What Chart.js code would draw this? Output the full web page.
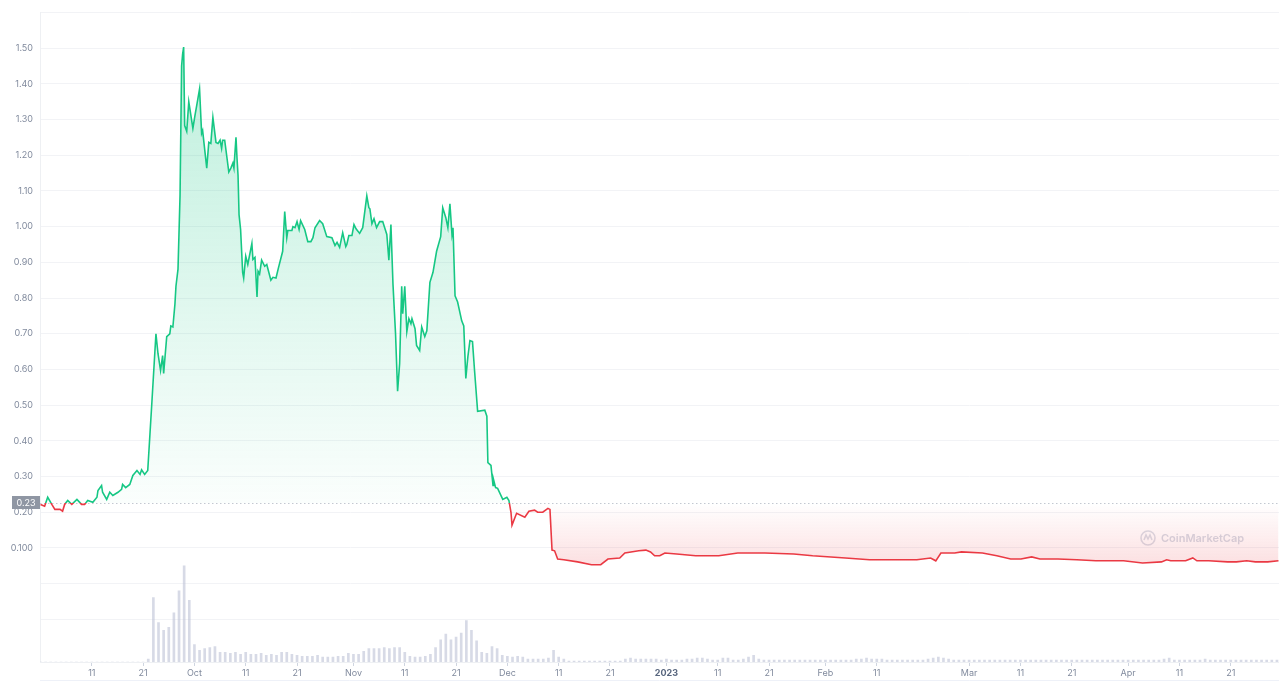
<!DOCTYPE html>
<html>
<head>
<meta charset="utf-8">
<script src="https://cdn.jsdelivr.net/npm/chart.js@4.4.1/dist/chart.umd.min.js"></script>
<style>
  html, body { margin: 0; padding: 0; background: #fff; }
  #wrap { width: 1279px; height: 681px; position: relative; }
</style>
</head>
<body>
<div id="wrap"><canvas id="priceChart" width="1279" height="681"></canvas></div>
<script>
// days counted from 1 Sep 2022
const priceDays = [
  0, 0.8, 1.4, 2.2, 2.8, 3.8, 4.3, 4.7, 5.3, 6.1,
  7.1, 8.0, 8.6, 9.2, 10.2, 11.0, 11.2, 11.9, 12.1, 12.9,
  13.5, 14.1, 15.1, 15.8, 16.0, 16.6, 17.4, 18.0, 18.8, 19.4,
  19.7, 20.3, 20.9, 21.7, 22.5, 22.9, 23.4, 23.8, 24.0, 24.6,
  25.2, 25.4, 25.8, 26.2, 26.4, 26.8, 27.2, 27.5, 27.7, 27.9,
  28.1, 28.5, 28.9, 29.7, 30.1, 30.5, 31.0, 31.4, 31.6, 32.4,
  32.8, 33.2, 33.6, 34.2, 34.6, 35.0, 35.3, 35.5, 35.9, 36.7,
  37.1, 37.5, 37.7, 38.1, 38.3, 38.5, 38.7, 39.0, 39.4, 39.6,
  40.0, 40.4, 41.2, 41.4, 41.8, 42.2, 42.4, 42.7, 43.1, 43.7,
  44.1, 44.9, 45.3, 45.9, 46.4, 47.2, 47.6, 48.0, 48.2, 49.0,
  49.2, 49.6, 50.0, 50.4, 50.7, 51.5, 52.1, 52.7, 53.1, 53.5,
  54.4, 55.0, 55.8, 56.8, 57.4, 57.8, 58.3, 58.9, 59.5, 59.7,
  60.1, 60.7, 61.1, 61.5, 62.2, 62.8, 63.6, 64.0, 64.2, 64.6,
  65.0, 65.5, 66.1, 66.7, 67.5, 67.9, 68.3, 68.7, 69.2, 69.6,
  70.0, 70.4, 70.6, 71.0, 71.4, 71.8, 72.2, 72.4, 73.0, 73.3,
  73.9, 74.3, 74.9, 75.3, 75.9, 76.5, 77.2, 78.0, 78.4, 79.0,
  79.4, 79.8, 80.2, 80.4, 80.8, 81.3, 82.1, 82.5, 82.9, 83.3,
  83.7, 84.2, 84.6, 85.2, 86.6, 87.0, 87.2, 87.8, 88.2, 88.3,
  88.7, 89.1, 90.1, 90.9, 91.3, 91.7, 91.9, 92.8, 94.4, 95.2,
  96.3, 96.9, 97.9, 98.9, 99.3, 99.7, 100.2, 100.8, 102.0, 104.7,
  107.4, 109.2, 110.6, 112.9, 113.9, 116.6, 118.0, 118.9, 119.7, 120.7,
  121.7, 124.0, 127.7, 132.2, 135.9, 141.2, 146.8, 150.5, 156.9, 161.6,
  167.1, 170.8, 173.5, 174.5, 175.5, 178.2, 179.5, 183.6, 186.4, 189.1,
  191.1, 193.2, 194.8, 198.3, 202.0, 205.7, 211.1, 214.8, 218.5, 219.5,
  220.3, 223.2, 224.6, 225.4, 227.7, 231.4, 233.1, 235.1, 236.8, 239.2,
  241.3
];
const priceValues = [
  0.222, 0.217, 0.242, 0.222, 0.208, 0.208, 0.203, 0.222, 0.233, 0.222,
  0.236, 0.222, 0.222, 0.233, 0.228, 0.242, 0.261, 0.275, 0.256, 0.236,
  0.256, 0.247, 0.256, 0.264, 0.278, 0.269, 0.278, 0.303, 0.317, 0.306,
  0.319, 0.306, 0.317, 0.506, 0.700, 0.644, 0.597, 0.639, 0.589, 0.692,
  0.700, 0.722, 0.719, 0.783, 0.833, 0.881, 1.089, 1.450, 1.483, 1.503,
  1.283, 1.267, 1.350, 1.275, 1.311, 1.344, 1.386, 1.261, 1.269, 1.164,
  1.236, 1.233, 1.306, 1.236, 1.233, 1.242, 1.219, 1.242, 1.242, 1.153,
  1.164, 1.178, 1.164, 1.250, 1.192, 1.144, 1.033, 0.992, 0.872, 0.856,
  0.917, 0.894, 0.953, 0.908, 0.914, 0.803, 0.875, 0.867, 0.906, 0.889,
  0.894, 0.850, 0.858, 0.856, 0.886, 0.931, 1.042, 0.969, 0.989, 0.989,
  1.000, 0.997, 1.014, 0.992, 1.017, 0.992, 0.958, 0.958, 0.969, 0.997,
  1.017, 1.008, 0.972, 0.969, 0.947, 0.956, 0.942, 0.983, 0.944, 0.950,
  0.975, 0.975, 1.006, 0.994, 0.981, 0.997, 1.086, 1.053, 1.050, 1.008,
  1.022, 0.997, 1.014, 1.014, 0.978, 0.906, 1.006, 0.839, 0.700, 0.539,
  0.617, 0.833, 0.756, 0.833, 0.706, 0.742, 0.728, 0.742, 0.714, 0.667,
  0.653, 0.719, 0.692, 0.708, 0.844, 0.872, 0.931, 0.972, 1.053, 1.025,
  0.997, 1.064, 0.978, 0.997, 0.806, 0.789, 0.736, 0.722, 0.575, 0.636,
  0.681, 0.678, 0.597, 0.483, 0.486, 0.469, 0.339, 0.331, 0.275, 0.292,
  0.269, 0.267, 0.236, 0.242, 0.233, 0.200, 0.164, 0.197, 0.186, 0.203,
  0.206, 0.200, 0.200, 0.211, 0.208, 0.094, 0.092, 0.069, 0.067, 0.061,
  0.053, 0.053, 0.069, 0.072, 0.086, 0.092, 0.094, 0.089, 0.078, 0.078,
  0.086, 0.083, 0.078, 0.078, 0.086, 0.086, 0.083, 0.078, 0.072, 0.067,
  0.067, 0.067, 0.072, 0.064, 0.086, 0.086, 0.089, 0.086, 0.078, 0.069,
  0.069, 0.075, 0.069, 0.069, 0.067, 0.064, 0.064, 0.058, 0.061, 0.067,
  0.064, 0.064, 0.072, 0.064, 0.064, 0.061, 0.061, 0.064, 0.061, 0.061,
  0.064
];
// daily volume, one value per day from day 0 (relative units)
const volumeValues = [
  0, 0, 0, 0, 0, 0, 0, 0, 0, 0,
  0, 0, 0, 0, 0, 0, 0, 0, 0, 0,
  0, 3, 67, 41, 33, 36, 51, 74, 100, 64,
  18, 12, 14, 15, 16, 10, 10, 9, 10, 8,
  10, 8, 8, 9, 7, 8, 7, 10, 10, 8,
  7, 6, 6, 6, 7, 5, 5, 5, 6, 6,
  9, 8, 8, 11, 14, 14, 14, 15, 14, 15,
  15, 10, 6, 5, 5, 6, 8, 15, 23, 29,
  23, 26, 30, 43, 33, 22, 10, 9, 16, 14,
  7, 6, 5, 6, 5, 3, 3, 3, 3, 4,
  12, 5, 3, 1, 1, 1, 1, 1, 1, 1,
  1, 1, 1, 1, 3, 4, 3, 3, 3, 3,
  3, 2, 3, 2, 2, 2, 3, 3, 4, 4,
  3, 2, 2, 4, 4, 2, 2, 3, 5, 7,
  3, 2, 2, 2, 2, 2, 2, 2, 2, 2,
  2, 2, 2, 2, 2, 2, 2, 2, 2, 3,
  3, 4, 3, 3, 3, 2, 2, 2, 2, 2,
  2, 2, 2, 3, 4, 5, 4, 3, 2, 2,
  2, 2, 2, 2, 2, 2, 2, 2, 2, 2,
  2, 2, 2, 2, 2, 2, 2, 2, 2, 2,
  2, 2, 2, 2, 2, 2, 2, 2, 2, 2,
  2, 2, 2, 2, 2, 2, 2, 2, 2, 3,
  4, 2, 2, 2, 2, 2, 2, 3, 2, 2,
  2, 2, 2, 2, 2, 2, 2, 2, 2, 2,
  2, 2
];
const tickDays = [10, 20, 30, 40, 50, 61, 71, 81, 91, 101, 111, 122, 132, 142, 153, 163, 181, 191, 201, 212, 222, 232];
const tickLabels = ["11", "21", "Oct", "11", "21", "Nov", "11", "21", "Dec", "11", "21", "2023", "11", "21", "Feb", "11", "Mar", "11", "21", "Apr", "11", "21"];
const openPrice = 0.2252;

const GREEN = "#16c784";
const RED = "#ea3943";

Chart.defaults.font.family = "Inter, 'Open Sans', sans-serif";
Chart.defaults.color = "#808a9d";

function lineGradient(ctx) {
    const chart = ctx.chart;
    const area = chart.chartArea;
    if (!area) return GREEN;
    const yb = chart.scales.y.getPixelForValue(openPrice);
    const stop = Math.min(Math.max((yb - area.top) / (area.bottom - area.top), 0), 1);
    const g = chart.ctx.createLinearGradient(0, area.top, 0, area.bottom);
    g.addColorStop(0, GREEN);
    g.addColorStop(stop, GREEN);
    g.addColorStop(stop, RED);
    g.addColorStop(1, RED);
    return g;
}

function fillGradient(ctx) {
    const chart = ctx.chart;
    const area = chart.chartArea;
    if (!area) return "rgba(22,199,132,0.2)";
    const yb = chart.scales.y.getPixelForValue(openPrice);
    const h = area.bottom - area.top;
    const stop = Math.min(Math.max((yb - area.top) / h, 0), 1);
    const yLow = (chart.scales.y.getPixelForValue(0.05) - area.top) / h;
    const g = chart.ctx.createLinearGradient(0, area.top, 0, area.bottom);
    g.addColorStop(0, "rgba(22,199,132,0.30)");
    g.addColorStop(0.08, "rgba(22,199,132,0.27)");
    g.addColorStop(stop - 0.001, "rgba(22,199,132,0.02)");
    g.addColorStop(stop, "rgba(234,57,67,0.0)");
    g.addColorStop(Math.min(yLow, 0.999), "rgba(234,57,67,0.16)");
    g.addColorStop(1, "rgba(234,57,67,0.2)");
    return g;
}

const overlayPlugin = {
    id: "overlay",
    beforeDatasetsDraw(chart) {
        const { ctx, chartArea, scales } = chart;
        const y = Math.round(scales.y.getPixelForValue(openPrice)) + 0.5;
        ctx.save();
        ctx.strokeStyle = "#c3c8d1";
        ctx.lineWidth = 1;
        ctx.setLineDash([1.5, 2.5]);
        ctx.beginPath();
        ctx.moveTo(chartArea.left, y);
        ctx.lineTo(chartArea.right, y);
        ctx.stroke();
        ctx.setLineDash([]);

        // watermark
        const wx = 1148, wy = 538;
        ctx.strokeStyle = "rgba(170,180,200,0.45)";
        ctx.lineWidth = 1.6;
        ctx.beginPath();
        ctx.arc(wx, wy, 7, 0, Math.PI * 2);
        ctx.stroke();
        ctx.beginPath();
        ctx.moveTo(wx - 4, wy + 2);
        ctx.lineTo(wx - 2, wy - 3);
        ctx.lineTo(wx, wy + 1);
        ctx.lineTo(wx + 2, wy - 3);
        ctx.lineTo(wx + 4, wy + 2);
        ctx.stroke();
        ctx.fillStyle = "rgba(170,180,200,0.5)";
        ctx.font = "600 11px Inter, sans-serif";
        ctx.textAlign = "left";
        ctx.textBaseline = "middle";
        ctx.fillText("CoinMarketCap", wx + 13, wy + 1);
        ctx.restore();
    },
    afterDraw(chart) {
        const { ctx, chartArea, scales } = chart;
        const y = Math.round(scales.y.getPixelForValue(openPrice));
        ctx.save();
        ctx.fillStyle = "#8f96a3";
        ctx.fillRect(12, y - 7, chartArea.left - 12, 13);
        ctx.fillStyle = "#ffffff";
        ctx.font = "9px Inter, sans-serif";
        ctx.textAlign = "center";
        ctx.textBaseline = "middle";
        ctx.fillText(openPrice.toFixed(2), (12 + chartArea.left) / 2, y);
        ctx.strokeStyle = "#eef1f8";
        ctx.lineWidth = 1;
        ctx.beginPath();
        ctx.moveTo(chartArea.left, chart.height - 0.5);
        ctx.lineTo(chartArea.right, chart.height - 0.5);
        ctx.stroke();
        ctx.restore();
    }
};

new Chart(document.getElementById("priceChart"), {
    data: {
        datasets: [
            {
                type: "line",
                label: "Price",
                data: priceDays.map((d, i) => ({ x: d, y: priceValues[i] })),
                yAxisID: "y",
                borderColor: lineGradient,
                backgroundColor: fillGradient,
                borderWidth: 1.6,
                pointRadius: 0,
                tension: 0,
                fill: { target: { value: openPrice } },
                order: 1
            },
            {
                type: "bar",
                label: "Volume",
                data: volumeValues.map((v, i) => ({ x: i, y: v })),
                yAxisID: "yVol",
                backgroundColor: "rgba(188,194,214,0.6)",
                barThickness: 2,
                order: 2
            }
        ]
    },
    options: {
        responsive: false,
        animation: false,
        devicePixelRatio: 1,
        layout: { padding: { top: 7, left: 0, right: 0, bottom: 0 } },
        plugins: {
            legend: { display: false },
            tooltip: { enabled: false }
        },
        scales: {
            x: {
                type: "linear",
                offset: false,
                min: -0.1,
                max: 241.4,
                afterBuildTicks: (scale) => { scale.ticks = tickDays.map(v => ({ value: v })); },
                afterFit: (scale) => { scale.height = 19; },
                ticks: {
                    autoSkip: false,
                    maxRotation: 0,
                    padding: 2,
                    color: (c) => c.tick && c.tick.label === "2023" ? "#58667e" : "#808a9d",
                    font: (c) => ({ size: 9, weight: c.tick && c.tick.label === "2023" ? "bold" : "normal" }),
                    callback: (value) => tickLabels[tickDays.indexOf(value)]
                },
                grid: { offset: false, drawOnChartArea: false, drawTicks: true, tickLength: 4, color: "#cfd5e0" },
                border: { display: true, color: "#eef0f3" }
            },
            y: {
                type: "linear",
                min: -0.2194,
                max: 1.6,
                afterFit: (scale) => { scale.width = 40; },
                ticks: {
                    stepSize: 0.1,
                    padding: 7,
                    font: { size: 9 },
                    color: "#808a9d",
                    callback: (value) => {
                        const v = Math.round(value * 100) / 100;
                        if (v >= 0.195 && v <= 1.55) return v.toFixed(2);
                        if (Math.abs(v - 0.1) < 0.001) return "0.100";
                        return "";
                    }
                },
                grid: { color: "#f2f3f6", drawTicks: false },
                border: { display: true, color: "#eef0f3" }
            },
            yVol: {
                type: "linear",
                display: false,
                min: 0,
                max: 675
            }
        }
    },
    plugins: [overlayPlugin]
});
</script>
</body>
</html>
